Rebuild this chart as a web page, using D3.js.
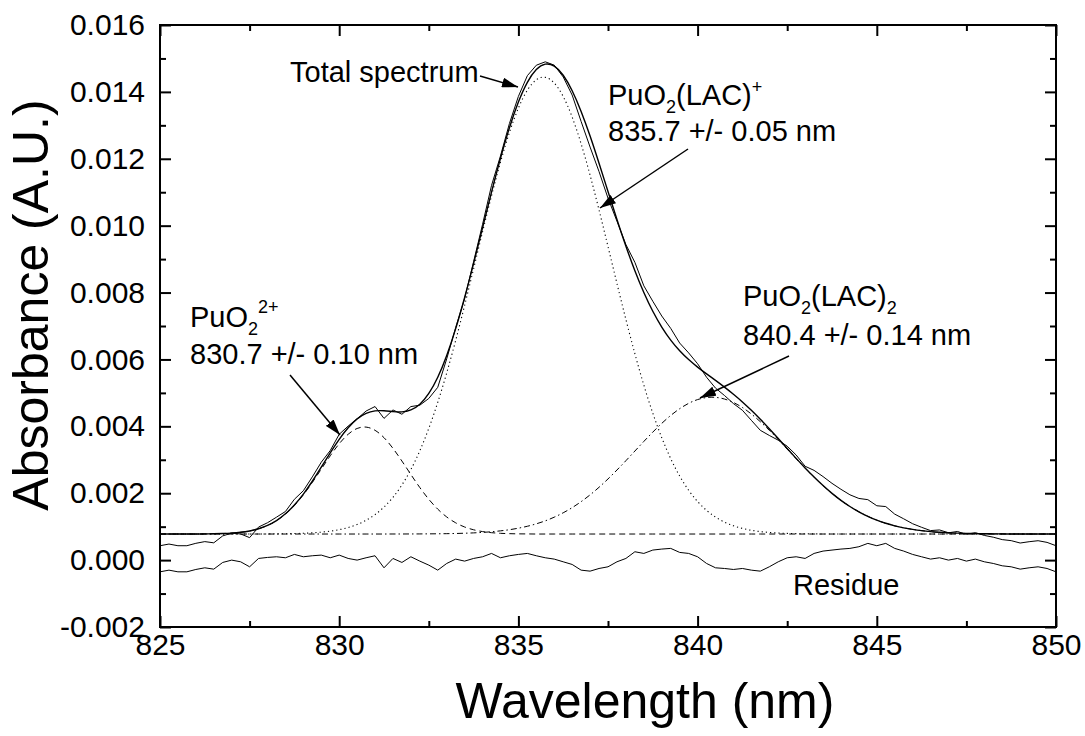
<!DOCTYPE html>
<html>
<head>
<meta charset="utf-8">
<script src="https://cdn.jsdelivr.net/npm/d3@7"></script>
<style>
  body { margin: 0; background: #fff; }
  text { font-family: "Liberation Sans", Arial, sans-serif; fill: #000; }
</style>
</head>
<body>
<div id="chart"></div>
<script>
// wavelength grid (nm)
var wavelength = [
  825, 825.25, 825.5, 825.75, 826, 826.25, 826.5, 826.75, 827, 827.25,
  827.5, 827.75, 828, 828.25, 828.5, 828.75, 829, 829.25, 829.5, 829.75,
  830, 830.25, 830.5, 830.75, 831, 831.25, 831.5, 831.75, 832, 832.25,
  832.5, 832.75, 833, 833.25, 833.5, 833.75, 834, 834.25, 834.5, 834.75,
  835, 835.25, 835.5, 835.75, 836, 836.25, 836.5, 836.75, 837, 837.25,
  837.5, 837.75, 838, 838.25, 838.5, 838.75, 839, 839.25, 839.5, 839.75,
  840, 840.25, 840.5, 840.75, 841, 841.25, 841.5, 841.75, 842, 842.25,
  842.5, 842.75, 843, 843.25, 843.5, 843.75, 844, 844.25, 844.5, 844.75,
  845, 845.25, 845.5, 845.75, 846, 846.25, 846.5, 846.75, 847, 847.25,
  847.5, 847.75, 848, 848.25, 848.5, 848.75, 849, 849.25, 849.5, 849.75,
  850
];

// measured spectrum
var spectrum = [
  0.00043, 0.00048, 0.00043, 0.00043, 0.000502, 0.000553, 0.000517, 0.000724, 0.000808, 0.000782,
  0.000672, 0.000988, 0.001118, 0.001283, 0.001454, 0.001819, 0.002075, 0.002488, 0.002927, 0.003276,
  0.003761, 0.004008, 0.004222, 0.004458, 0.004592, 0.004237, 0.00449, 0.004361, 0.004591, 0.004632,
  0.004834, 0.005167, 0.006019, 0.006951, 0.007821, 0.008922, 0.010038, 0.011202, 0.012084, 0.013057,
  0.013865, 0.014485, 0.014797, 0.014899, 0.014799, 0.014447, 0.013905, 0.013116, 0.01235, 0.011617,
  0.010822, 0.010134, 0.009435, 0.008903, 0.008201, 0.00774, 0.007299, 0.006929, 0.00649, 0.006196,
  0.005871, 0.005468, 0.005143, 0.004922, 0.00468, 0.00448, 0.004179, 0.003881, 0.003728, 0.003585,
  0.003406, 0.003142, 0.002806, 0.002683, 0.002498, 0.002295, 0.002117, 0.001953, 0.001844, 0.001808,
  0.001625, 0.001601, 0.001375, 0.001235, 0.001088, 0.000981, 0.000883, 0.000902, 0.000817, 0.000856,
  0.000768, 0.000822, 0.000738, 0.000685, 0.000613, 0.000582, 0.000511, 0.00055, 0.00058, 0.00053,
  0.00043
];

// total fitted spectrum
var totalFit = [
  0.00078, 0.00078, 0.00078, 0.00078, 0.000782, 0.000783, 0.000787, 0.000794, 0.000808, 0.000832,
  0.000872, 0.000938, 0.001038, 0.001183, 0.001384, 0.001649, 0.001975, 0.002358, 0.002777, 0.003206,
  0.003611, 0.003958, 0.004222, 0.004388, 0.004462, 0.004467, 0.00444, 0.004431, 0.004491, 0.004662,
  0.004984, 0.005467, 0.006119, 0.006921, 0.007851, 0.008872, 0.009938, 0.011002, 0.012014, 0.012927,
  0.013695, 0.014285, 0.014667, 0.014829, 0.014769, 0.014497, 0.014035, 0.013416, 0.01268, 0.011867,
  0.011022, 0.010184, 0.009385, 0.008653, 0.008001, 0.00744, 0.006969, 0.006579, 0.00626, 0.005996,
  0.005771, 0.005568, 0.005373, 0.005172, 0.00496, 0.00473, 0.004479, 0.004211, 0.003928, 0.003635,
  0.003336, 0.003042, 0.002756, 0.002483, 0.002228, 0.001995, 0.001787, 0.001603, 0.001444, 0.001308,
  0.001195, 0.001101, 0.001025, 0.000965, 0.000918, 0.000881, 0.000853, 0.000832, 0.000817, 0.000806,
  0.000798, 0.000792, 0.000788, 0.000785, 0.000783, 0.000782, 0.000781, 0.00078, 0.00078, 0.00078,
  0.00078
];

// PuO2 2+ component
var puo2 = [
  0.00078, 0.00078, 0.00078, 0.00078, 0.00078, 0.000783, 0.000787, 0.000794, 0.000808, 0.000831,
  0.000871, 0.000936, 0.001035, 0.001178, 0.001376, 0.001635, 0.001953, 0.002322, 0.002721, 0.003119,
  0.00348, 0.003763, 0.003936, 0.003977, 0.003881, 0.003661, 0.003342, 0.002962, 0.00256, 0.002169,
  0.001819, 0.001524, 0.00129, 0.001115, 0.00099, 0.000907, 0.000853, 0.00082, 0.000801, 0.000791,
  0.000785, 0.000783, 0.00078, 0.00078, 0.00078, 0.00078, 0.00078, 0.00078, 0.00078, 0.00078,
  0.00078, 0.00078, 0.00078, 0.00078, 0.00078, 0.00078, 0.00078, 0.00078, 0.00078, 0.00078,
  0.00078, 0.00078, 0.00078, 0.00078, 0.00078, 0.00078, 0.00078, 0.00078, 0.00078, 0.00078,
  0.00078, 0.00078, 0.00078, 0.00078, 0.00078, 0.00078, 0.00078, 0.00078, 0.00078, 0.00078,
  0.00078, 0.00078, 0.00078, 0.00078, 0.00078, 0.00078, 0.00078, 0.00078, 0.00078, 0.00078,
  0.00078, 0.00078, 0.00078, 0.00078, 0.00078, 0.00078, 0.00078, 0.00078, 0.00078, 0.00078,
  0.00078
];

// PuO2(LAC)+ component
var puo2Lac = [
  0.00078, 0.00078, 0.00078, 0.00078, 0.00078, 0.00078, 0.00078, 0.00078, 0.00078, 0.00078,
  0.000781, 0.000782, 0.000783, 0.000785, 0.000788, 0.000794, 0.000802, 0.000816, 0.000836, 0.000867,
  0.000911, 0.000975, 0.001066, 0.001191, 0.001361, 0.001586, 0.001877, 0.002248, 0.002709, 0.00327,
  0.00394, 0.004716, 0.005598, 0.00657, 0.007617, 0.008711, 0.009816, 0.010894, 0.011898, 0.012787,
  0.013515, 0.01405, 0.014362, 0.014435, 0.014265, 0.013862, 0.013246, 0.012448, 0.011509, 0.010469,
  0.009375, 0.00827, 0.007192, 0.006172, 0.005233, 0.004393, 0.00366, 0.003034, 0.002513, 0.002089,
  0.001751, 0.001488, 0.001287, 0.001136, 0.001026, 0.000947, 0.000891, 0.000853, 0.000827, 0.00081,
  0.000798, 0.000791, 0.000787, 0.000784, 0.000782, 0.000781, 0.00078, 0.00078, 0.00078, 0.00078,
  0.00078, 0.00078, 0.00078, 0.00078, 0.00078, 0.00078, 0.00078, 0.00078, 0.00078, 0.00078,
  0.00078, 0.00078, 0.00078, 0.00078, 0.00078, 0.00078, 0.00078, 0.00078, 0.00078, 0.00078,
  0.00078
];

// PuO2(LAC)2 component
var puo2Lac2 = [
  0.00078, 0.00078, 0.00078, 0.00078, 0.00078, 0.00078, 0.00078, 0.00078, 0.00078, 0.00078,
  0.00078, 0.00078, 0.00078, 0.00078, 0.00078, 0.00078, 0.00078, 0.00078, 0.00078, 0.00078,
  0.00078, 0.00078, 0.00078, 0.00078, 0.00078, 0.00078, 0.000781, 0.000781, 0.000782, 0.000783,
  0.000785, 0.000787, 0.000791, 0.000796, 0.000804, 0.000814, 0.000829, 0.000848, 0.000875, 0.000909,
  0.000955, 0.001012, 0.001085, 0.001174, 0.001284, 0.001415, 0.001569, 0.001748, 0.001951, 0.002178,
  0.002427, 0.002694, 0.002973, 0.003261, 0.003548, 0.003827, 0.004089, 0.004325, 0.004527, 0.004687,
  0.0048, 0.00486, 0.004866, 0.004816, 0.004714, 0.004563, 0.004368, 0.004138, 0.003881, 0.003605,
  0.003318, 0.003031, 0.002749, 0.002479, 0.002226, 0.001995, 0.001787, 0.001603, 0.001444, 0.001308,
  0.001195, 0.001101, 0.001025, 0.000965, 0.000918, 0.000881, 0.000853, 0.000832, 0.000817, 0.000806,
  0.000798, 0.000792, 0.000788, 0.000785, 0.000783, 0.000782, 0.000781, 0.00078, 0.00078, 0.00078,
  0.00078
];

// residue of the fit
var residue = [
  -0.00035, -0.0003, -0.00035, -0.00035, -0.00028, -0.00023, -0.00027, -0.00007, 0, -0.00005,
  -0.0002, 0.00005, 0.00008, 0.0001, 0.00007, 0.00017, 0.0001, 0.00013, 0.00015, 0.00007,
  0.00015, 0.00005, 0, 0.00007, 0.00013, -0.00023, 0.00005, -0.00007, 0.0001, -0.00003,
  -0.00015, -0.0003, -0.0001, 0.00003, -0.00003, 0.00005, 0.0001, 0.0002, 0.00007, 0.00013,
  0.00017, 0.0002, 0.00013, 0.00007, 0.00003, -0.00005, -0.00013, -0.0003, -0.00033, -0.00025,
  -0.0002, -0.00005, 0.00005, 0.00025, 0.0002, 0.0003, 0.00033, 0.00035, 0.00023, 0.0002,
  0.0001, -0.0001, -0.00023, -0.00025, -0.00028, -0.00025, -0.0003, -0.00033, -0.0002, -0.00005,
  0.00007, 0.0001, 0.00005, 0.0002, 0.00027, 0.0003, 0.00033, 0.00035, 0.0004, 0.0005,
  0.00043, 0.0005, 0.00035, 0.00027, 0.00017, 0.0001, 0.00003, 0.00007, 0, 0.00005,
  -0.00003, 0.00003, -0.00005, -0.0001, -0.00017, -0.0002, -0.00027, -0.00023, -0.0002, -0.00025,
  -0.00035
];

var xTicks = [825, 830, 835, 840, 845, 850];
var xMinor = [827.5, 832.5, 837.5, 842.5, 847.5];
var yTicks = [-0.002, 0, 0.002, 0.004, 0.006, 0.008, 0.010, 0.012, 0.014, 0.016];
var yMinor = [-0.001, 0.001, 0.003, 0.005, 0.007, 0.009, 0.011, 0.013, 0.015];

var W = 1085, H = 736;
var pLeft = 160, pRight = 1056, pTop = 25, pBottom = 627;

var svg = d3.select("#chart").append("svg")
  .attr("width", W)
  .attr("height", H)
  .style("background", "#fff");

var x = d3.scaleLinear().domain([825, 850]).range([pLeft, pRight]);
var y = d3.scaleLinear().domain([-0.002, 0.016]).range([pBottom, pTop]);

var defs = svg.append("defs");
defs.append("marker")
  .attr("id", "head")
  .attr("markerUnits", "userSpaceOnUse")
  .attr("viewBox", "0 0 16 10")
  .attr("refX", 16).attr("refY", 5)
  .attr("markerWidth", 16).attr("markerHeight", 10)
  .attr("orient", "auto")
  .append("path")
  .attr("d", "M0,0 L16,5 L0,10 Z")
  .attr("fill", "#000");

defs.append("clipPath").attr("id", "plotClip")
  .append("rect")
  .attr("x", pLeft).attr("y", pTop)
  .attr("width", pRight - pLeft).attr("height", pBottom - pTop);

function lineOf(values) {
  return d3.line()
    .x(function (d, i) { return x(wavelength[i]); })
    .y(function (d) { return y(d); })
    .curve(d3.curveNatural)(values);
}
function rawLine(values) {
  return d3.line()
    .x(function (d, i) { return x(wavelength[i]); })
    .y(function (d) { return y(d); })(values);
}

var plot = svg.append("g").attr("clip-path", "url(#plotClip)");

// fitted components
plot.append("path").attr("d", lineOf(puo2))
  .attr("fill", "none").attr("stroke", "#000").attr("stroke-width", 1)
  .attr("stroke-dasharray", "6,4");
plot.append("path").attr("d", lineOf(puo2Lac))
  .attr("fill", "none").attr("stroke", "#000").attr("stroke-width", 1.1)
  .attr("stroke-dasharray", "1.2,3");
plot.append("path").attr("d", lineOf(puo2Lac2))
  .attr("fill", "none").attr("stroke", "#000").attr("stroke-width", 1)
  .attr("stroke-dasharray", "6,3,1.5,3");

// total fit, data and residue
plot.append("path").attr("d", lineOf(totalFit))
  .attr("fill", "none").attr("stroke", "#000").attr("stroke-width", 1.4);
plot.append("path").attr("d", rawLine(spectrum))
  .attr("fill", "none").attr("stroke", "#000").attr("stroke-width", 1);
plot.append("path").attr("d", rawLine(residue))
  .attr("fill", "none").attr("stroke", "#000").attr("stroke-width", 1);

// axes
var fontTick = "30px";
var fmtY = function (d) { return d3.format(".3f")(d).replace("\u2212", "-"); };
var gx = svg.append("g").attr("transform", "translate(0," + pBottom + ")")
  .call(d3.axisBottom(x).tickValues(xTicks).tickSize(-11).tickPadding(7)
    .tickFormat(d3.format("d")));
gx.selectAll("text").style("font-size", fontTick);
svg.append("g").attr("transform", "translate(0," + pBottom + ")")
  .call(d3.axisBottom(x).tickValues(xMinor).tickSize(-6).tickFormat(""));
svg.append("g").attr("transform", "translate(0," + pTop + ")")
  .call(d3.axisTop(x).tickValues(xTicks).tickSize(-11).tickFormat(""));
svg.append("g").attr("transform", "translate(0," + pTop + ")")
  .call(d3.axisTop(x).tickValues(xMinor).tickSize(-6).tickFormat(""));

var gy = svg.append("g").attr("transform", "translate(" + pLeft + ",0)")
  .call(d3.axisLeft(y).tickValues(yTicks).tickSize(-11).tickPadding(15)
    .tickFormat(fmtY));
gy.selectAll("text").style("font-size", fontTick);
svg.append("g").attr("transform", "translate(" + pLeft + ",0)")
  .call(d3.axisLeft(y).tickValues(yMinor).tickSize(-6).tickFormat(""));
svg.append("g").attr("transform", "translate(" + pRight + ",0)")
  .call(d3.axisRight(y).tickValues(yTicks).tickSize(-11).tickFormat(""));
svg.append("g").attr("transform", "translate(" + pRight + ",0)")
  .call(d3.axisRight(y).tickValues(yMinor).tickSize(-6).tickFormat(""));

svg.selectAll(".domain").remove();
svg.selectAll(".tick line").attr("stroke", "#000").attr("stroke-width", 2);
svg.selectAll(".tick text").attr("fill", "#000").style("font-family", '"Liberation Sans", Arial, sans-serif');

// frame
svg.append("rect")
  .attr("x", pLeft).attr("y", pTop)
  .attr("width", pRight - pLeft).attr("height", pBottom - pTop)
  .attr("fill", "none").attr("stroke", "#000").attr("stroke-width", 2);

// axis titles
svg.append("text")
  .attr("x", 645).attr("y", 718)
  .attr("text-anchor", "middle")
  .style("font-size", "50px")
  .text("Wavelength (nm)");
svg.append("text")
  .attr("transform", "translate(48,305) rotate(-90)")
  .attr("text-anchor", "middle")
  .style("font-size", "50px")
  .text("Absorbance (A.U.)");

// annotations
var fontNote = 29, fontSmall = 18;
function rich(xp, yp, parts) {
  var t = svg.append("text").attr("x", xp).attr("y", yp).style("font-size", fontNote + "px");
  parts.forEach(function (p) {
    t.append("tspan")
      .attr("dy", p.dy || 0)
      .style("font-size", (p.small ? fontSmall : fontNote) + "px")
      .text(p.t);
  });
  return t;
}
function arrow(x1, y1, x2, y2) {
  svg.append("line")
    .attr("x1", x1).attr("y1", y1).attr("x2", x2).attr("y2", y2)
    .attr("stroke", "#000").attr("stroke-width", 1.5)
    .attr("marker-end", "url(#head)");
}

rich(290, 82, [{ t: "Total spectrum" }]);
arrow(480, 76, 518, 87);

rich(608, 105, [{ t: "PuO" }, { t: "2", small: true, dy: 8 }, { t: "(LAC)", dy: -8 },
  { t: "+", small: true, dy: -12 }]);
rich(608, 141, [{ t: "835.7 +/- 0.05 nm" }]);
arrow(688, 149, 600, 208);

rich(743, 306, [{ t: "PuO" }, { t: "2", small: true, dy: 8 }, { t: "(LAC)", dy: -8 },
  { t: "2", small: true, dy: 8 }]);
rich(743, 345, [{ t: "840.4 +/- 0.14 nm" }]);
arrow(789, 356, 700, 398);

rich(190, 327, [{ t: "PuO" }, { t: "2", small: true, dy: 8 }, { t: "2+", small: true, dy: -22 }]);
rich(190, 364, [{ t: "830.7 +/- 0.10 nm" }]);
arrow(290, 375, 340, 435);

rich(793, 595, [{ t: "Residue" }]);
</script>
</body>
</html>
